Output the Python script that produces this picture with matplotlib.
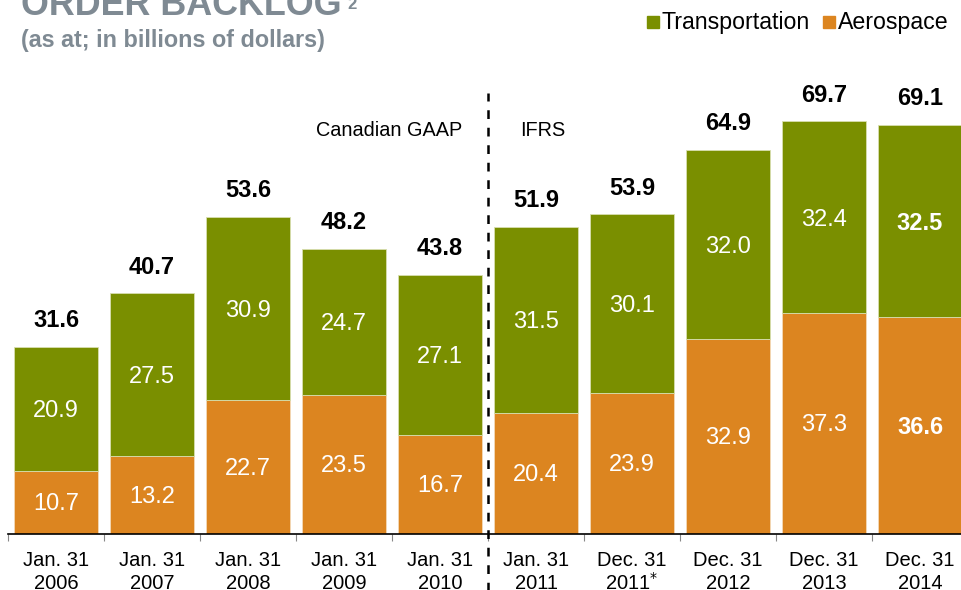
import matplotlib
matplotlib.use("Agg")
import matplotlib.pyplot as plt
from matplotlib.patches import Rectangle

plt.rcParams['font.family'] = ['Liberation Sans', 'DejaVu Sans']

line1 = ["Jan. 31", "Jan. 31", "Jan. 31", "Jan. 31", "Jan. 31",
         "Jan. 31", "Dec. 31", "Dec. 31", "Dec. 31", "Dec. 31"]
line2 = ["2006", "2007", "2008", "2009", "2010",
         "2011", "2011$^{*}$", "2012", "2013", "2014"]
aerospace = [10.7, 13.2, 22.7, 23.5, 16.7, 20.4, 23.9, 32.9, 37.3, 36.6]
transportation = [20.9, 27.5, 30.9, 24.7, 27.1, 31.5, 30.1, 32.0, 32.4, 32.5]
totals = [31.6, 40.7, 53.6, 48.2, 43.8, 51.9, 53.9, 64.9, 69.7, 69.1]

GREEN = "#7a8f00"
ORANGE = "#dc8520"
GRAY = "#7f8a93"

W, H = 962, 590
PX = 5.92  # pixels per unit
fig = plt.figure(figsize=(W / 100, H / 100), dpi=100)
ax = fig.add_axes([8 / W, (H - 534) / H, (962 - 8) / W, 534 / H])
ax.set_ylim(0, 534 / PX)
ax.set_xlim(-0.5, 9.5 - 6 / 96)

x = list(range(len(totals)))
bw = 0.87
ax.bar(x, aerospace, width=bw, color=ORANGE, edgecolor="#f3d9b8", linewidth=0.6, zorder=2)
ax.bar(x, transportation, bottom=aerospace, width=bw, color=GREEN,
       edgecolor="#d8dfb0", linewidth=0.6, zorder=2)

for i in x:
    bold = 'bold' if i == 9 else 'normal'
    ax.text(i, aerospace[i] / 2 - 0.3, f"{aerospace[i]:.1f}", ha='center', va='center',
            color='white', fontsize=17, fontweight=bold, zorder=3)
    ax.text(i, aerospace[i] + transportation[i] / 2 - 0.4, f"{transportation[i]:.1f}",
            ha='center', va='center', color='white', fontsize=17, fontweight=bold, zorder=3)
    ax.text(i, totals[i] + 4.4, f"{totals[i]:.1f}", ha='center', va='center',
            color='black', fontsize=17, fontweight='bold', zorder=3)

for s in ['top', 'right', 'left']:
    ax.spines[s].set_visible(False)
ax.spines['bottom'].set_color('black')
ax.spines['bottom'].set_linewidth(1.2)
ax.set_yticks([])
ax.set_xticks([i - 0.5 for i in range(10)])
ax.tick_params(axis='x', length=5, color='#888888', labelbottom=False)

for i in x:
    ax.text(i, -4.4, line1[i], ha='center', va='center', fontsize=14.5, color='black')
    ax.text(i, -8.3, line2[i], ha='center', va='center', fontsize=14.5, color='black')

# dashed separator
ax.plot([4.5, 4.5], [-12, 74.5], color='black', linestyle=(0, (3.5, 3.5)), linewidth=1.8,
        clip_on=False, zorder=4)

ax.text(3.47, 68.2, "Canadian GAAP", ha='center', va='center', fontsize=14.3, color='black')
ax.text(5.07, 68.2, "IFRS", ha='center', va='center', fontsize=14.3, color='black')

# titles
fig.text(21 / W, 1 - 15 / H, "ORDER BACKLOG", ha='left', va='baseline', fontsize=25.8,
         fontweight='bold', color=GRAY)
fig.text(347 / W, 1 - 9 / H, "2", ha='left', va='baseline', fontsize=12,
         fontweight='bold', color=GRAY)
fig.text(21 / W, 1 - 41 / H, "(as at; in billions of dollars)", ha='left', va='center',
         fontsize=16.8, fontweight='bold', color=GRAY)

# legend
ly = 1 - 22 / H
fig.patches.append(Rectangle((647 / W, ly - 6 / H), 12 / W, 12 / H, color=GREEN,
                             transform=fig.transFigure, figure=fig))
fig.text(662 / W, ly, "Transportation", ha='left', va='center', fontsize=16.7, color='black')
fig.patches.append(Rectangle((823 / W, ly - 6 / H), 12 / W, 12 / H, color=ORANGE,
                             transform=fig.transFigure, figure=fig))
fig.text(838 / W, ly, "Aerospace", ha='left', va='center', fontsize=16.7, color='black')

fig.savefig("out.png", dpi=100)
